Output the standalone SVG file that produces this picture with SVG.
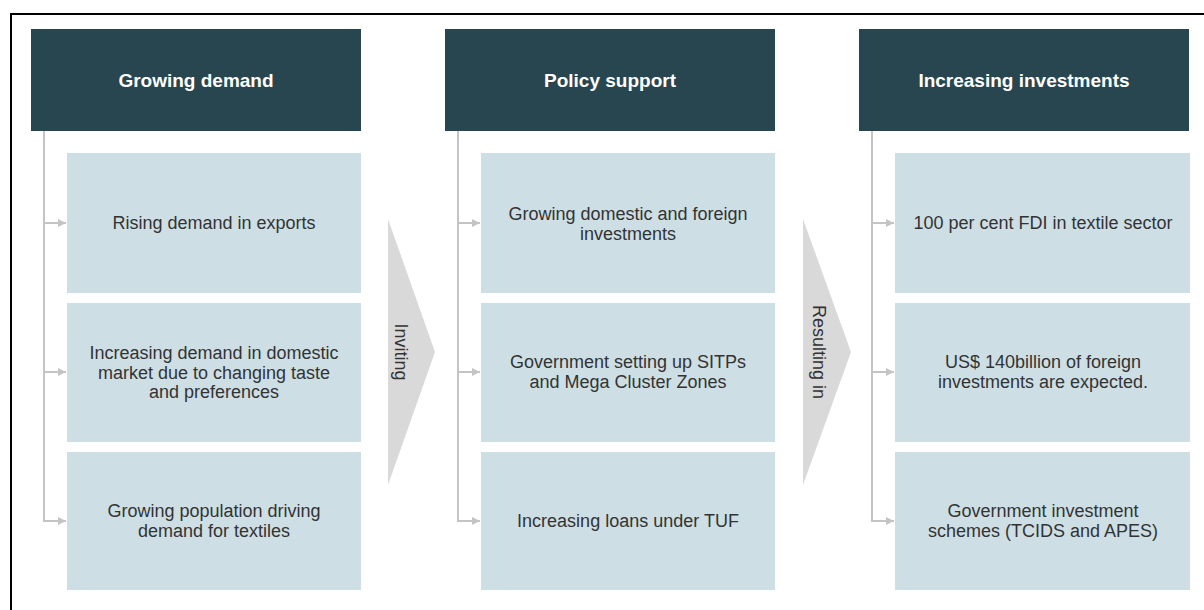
<svg xmlns="http://www.w3.org/2000/svg" width="1204" height="610" viewBox="0 0 1204 610">
<defs>
<style>
.hdr{fill:#28464f}
.hdr-t{fill:#ffffff;font-family:"Liberation Sans",Arial,sans-serif;font-size:19px;font-weight:bold;text-anchor:middle}
.box{fill:#cddfe5}
.box-t{fill:#333333;font-family:"Liberation Sans",Arial,sans-serif;font-size:18px;text-anchor:middle}
.chev{fill:#d9d9d9}
.chev-t{fill:#333333;font-family:"Liberation Sans",Arial,sans-serif;font-size:18px;text-anchor:middle;dominant-baseline:central}
.conn{fill:none;stroke:#c4c4c4;stroke-width:2}
</style>
<marker id="ah" viewBox="0 0 10 10" refX="10" refY="5" markerWidth="10" markerHeight="8" markerUnits="userSpaceOnUse" orient="auto">
<path d="M0,0 L10,5 L0,10 z" fill="#c4c4c4"/>
</marker>
</defs>
<rect width="1204" height="610" fill="#ffffff"/>
<path d="M11,610 V14 H1204" fill="none" stroke="#000000" stroke-width="2"/>

<g id="connectors">
<path class="conn" d="M44,131 V521 H66" marker-end="url(#ah)"/>
<path class="conn" d="M44,223 H66" marker-end="url(#ah)"/>
<path class="conn" d="M44,372 H66" marker-end="url(#ah)"/>
<path class="conn" d="M458,131 V521 H480" marker-end="url(#ah)"/>
<path class="conn" d="M458,223 H480" marker-end="url(#ah)"/>
<path class="conn" d="M458,372 H480" marker-end="url(#ah)"/>
<path class="conn" d="M872,131 V521 H894" marker-end="url(#ah)"/>
<path class="conn" d="M872,223 H894" marker-end="url(#ah)"/>
<path class="conn" d="M872,372 H894" marker-end="url(#ah)"/>
</g>

<g id="h1"><rect class="hdr" x="31" y="29" width="330" height="102"/><text class="hdr-t" x="196" y="87">Growing demand</text></g>
<g id="h2"><rect class="hdr" x="445" y="29" width="330" height="102"/><text class="hdr-t" x="610" y="87">Policy support</text></g>
<g id="h3"><rect class="hdr" x="859" y="29" width="330" height="102"/><text class="hdr-t" x="1024" y="87">Increasing investments</text></g>

<g id="c1r1"><rect class="box" x="67" y="153" width="294" height="140"/><text class="box-t" x="214" y="229">Rising demand in exports</text></g>
<g id="c1r2"><rect class="box" x="67" y="303" width="294" height="139"/><text class="box-t" x="214" y="359">Increasing demand in domestic</text><text class="box-t" x="214" y="378.5">market due to changing taste</text><text class="box-t" x="214" y="398">and preferences</text></g>
<g id="c1r3"><rect class="box" x="67" y="452" width="294" height="138"/><text class="box-t" x="214" y="517">Growing population driving</text><text class="box-t" x="214" y="537">demand for textiles</text></g>

<g id="c2r1"><rect class="box" x="481" y="153" width="294" height="140"/><text class="box-t" x="628" y="220">Growing domestic and foreign</text><text class="box-t" x="628" y="240">investments</text></g>
<g id="c2r2"><rect class="box" x="481" y="303" width="294" height="139"/><text class="box-t" x="628" y="368">Government setting up SITPs</text><text class="box-t" x="628" y="388">and Mega Cluster Zones</text></g>
<g id="c2r3"><rect class="box" x="481" y="452" width="294" height="138"/><text class="box-t" x="628" y="527">Increasing loans under TUF</text></g>

<g id="c3r1"><rect class="box" x="895" y="153" width="295" height="140"/><text class="box-t" x="1043" y="229">100 per cent FDI in textile sector</text></g>
<g id="c3r2"><rect class="box" x="895" y="303" width="295" height="139"/><text class="box-t" x="1043" y="368">US$ 140billion of foreign</text><text class="box-t" x="1043" y="388">investments are expected.</text></g>
<g id="c3r3"><rect class="box" x="895" y="452" width="295" height="138"/><text class="box-t" x="1043" y="517">Government investment</text><text class="box-t" x="1043" y="537">schemes (TCIDS and APES)</text></g>

<g id="arrow1"><polygon class="chev" points="388,219 435,352 388,485"/><text class="chev-t" transform="translate(401,352) rotate(90)">Inviting</text></g>
<g id="arrow2"><polygon class="chev" points="803,219 851,352 803,485"/><text class="chev-t" transform="translate(819,352) rotate(90)">Resulting in</text></g>
</svg>
